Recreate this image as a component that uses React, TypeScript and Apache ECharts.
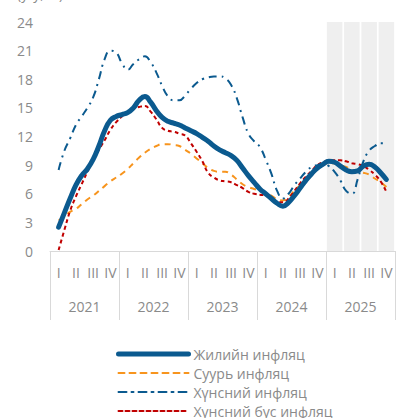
import React, { useEffect, useRef } from "react";
import * as echarts from "echarts";

// Category labels
const years = ["2021", "2022", "2023", "2024", "2025"];
const quarters = ["I", "II", "III", "IV"];
const shadedYear = "2025";
const yMax = 24;

// Monthly values, Feb 2021 – Nov 2025 (58 months), % y/y
const headline = [
  2.5, 4.0, 5.5, 6.9, 7.9, 8.6, 9.6, 11.0, 12.6, 13.7,
  14.1, 14.3, 14.5, 15.0, 15.8, 16.2, 15.6, 14.7, 14.0, 13.6,
  13.4, 13.2, 12.9, 12.6, 12.3, 11.9, 11.5, 11.0, 10.6, 10.3,
  10.0, 9.5, 8.7, 7.9, 7.2, 6.5, 6.0, 5.5, 5.0, 4.7,
  5.1, 5.8, 6.6, 7.4, 8.1, 8.7, 9.1, 9.4, 9.3, 8.9,
  8.5, 8.3, 8.4, 8.9, 9.1, 8.8, 8.2, 7.5,
];
const core = [
  3.2, 3.6, 4.1, 4.4, 4.9, 5.4, 5.8, 6.3, 6.8, 7.3,
  7.7, 8.1, 8.6, 9.2, 9.8, 10.3, 10.7, 11.0, 11.2, 11.2,
  11.1, 11.0, 10.6, 10.2, 9.7, 9.2, 8.7, 8.4, 8.3, 8.3,
  8.0, 7.5, 7.0, 6.7, 6.5, 6.3, 6.0, 5.8, 5.4, 5.3,
  5.7, 6.3, 6.9, 7.4, 7.9, 8.6, 9.0, 9.2, 9.2, 9.0,
  8.8, 8.5, 8.3, 8.2, 8.0, 7.6, 7.2, 6.7,
];
const food = [
  8.5, 10.5, 11.8, 13.2, 14.1, 15.0, 16.1, 18.0, 20.1, 21.0,
  20.8, 19.7, 19.0, 19.6, 20.1, 20.4, 19.8, 18.7, 17.3, 16.2,
  15.8, 15.8, 16.3, 17.0, 17.6, 18.0, 18.2, 18.3, 18.3, 18.1,
  17.4, 16.0, 14.0, 12.3, 11.5, 10.9, 9.6, 8.1, 6.3, 5.5,
  6.0, 6.9, 7.6, 8.3, 8.8, 9.0, 9.1, 8.9, 8.3, 7.4,
  6.3, 6.0, 7.5, 9.4, 10.5, 11.0, 11.3, 11.3,
];
const nonFood = [
  0.1, 2.2, 4.2, 5.7, 7.0, 8.3, 9.5, 10.6, 11.6, 12.7,
  13.5, 14.1, 14.6, 14.9, 15.1, 15.2, 14.6, 13.8, 12.9, 12.6,
  12.5, 12.3, 12.1, 11.3, 10.4, 9.4, 8.2, 7.7, 7.4, 7.3,
  7.2, 6.9, 6.6, 6.2, 6.0, 5.9, 5.8, 5.5, 5.2, 5.1,
  5.5, 6.3, 7.1, 7.8, 8.4, 9.0, 9.3, 9.5, 9.5, 9.5,
  9.4, 9.2, 9.1, 8.9, 8.5, 8.0, 7.3, 6.2,
];

const seriesNames = ["Жилийн инфляц", "Суурь инфляц", "Хүнсний инфляц", "Хүнсний бус инфляц"];
const unitLabel = "(у/у, %)";

const FONT = "'Open Sans', 'Noto Sans', sans-serif";
const GRAY = "#8a8a8a";

export default function App() {
  const ref = useRef<HTMLDivElement>(null);

  useEffect(() => {
    if (!ref.current) return;
    const chart = echarts.init(ref.current, undefined, { renderer: "svg" });

    const quarterLabels = years.flatMap(() => quarters);
    const months: string[] = [];
    years.forEach((y) => {
      for (let m = 1; m <= 12; m++) months.push(`${y}-${m}`);
    });
    // series start in Feb 2021 (month index 1)
    const pad = (arr: number[]) => {
      const out: (number | null)[] = new Array(months.length).fill(null);
      arr.forEach((v, i) => (out[i + 1] = v));
      return out;
    };
    const shadeIdx = years.indexOf(shadedYear);
    const shade = quarterLabels.map((_, i) => (Math.floor(i / 4) === shadeIdx ? yMax : null));

    const foodData: any[] = pad(food);
    const lastFood = 1 + food.length - 1;
    foodData[lastFood] = {
      value: food[food.length - 1],
      label: {
        show: true,
        position: "top",
        distance: 11,
        color: GRAY,
        fontSize: 14,
        fontFamily: FONT,
        formatter: (p: any) => String(p.value),
      },
    };

    const labelStyle = { color: GRAY, fontSize: 14, fontFamily: FONT };

    chart.setOption({
      animation: false,
      grid: { left: 50, right: 6, top: 22, bottom: 167, containLabel: false },
      graphic: [
        {
          type: "text",
          x: 17,
          y: -14,
          style: { text: unitLabel, fill: GRAY, fontSize: 14, fontFamily: FONT, verticalAlign: "top" },
        },
      ],
      legend: {
        orient: "vertical",
        left: 116,
        top: 347,
        padding: 0,
        itemWidth: 70,
        itemHeight: 14,
        itemGap: 5,
        textStyle: { color: GRAY, fontSize: 14, fontFamily: FONT },
        lineStyle: { width: "inherit", cap: "round" },
        itemStyle: { opacity: 0 },
        data: seriesNames,
      },
      xAxis: [
        {
          type: "category",
          data: quarterLabels,
          boundaryGap: true,
          position: "bottom",
          axisLine: { lineStyle: { color: "#d9d9d9", width: 1 } },
          axisTick: { show: false },
          axisLabel: { ...labelStyle, interval: 0, margin: 14 },
        },
        {
          type: "category",
          data: years,
          boundaryGap: true,
          position: "bottom",
          axisLine: { show: false },
          axisTick: { show: true, length: 69, lineStyle: { color: "#d9d9d9", width: 1 } },
          axisLabel: { ...labelStyle, interval: 0, margin: 48 },
        },
        {
          type: "category",
          data: months,
          boundaryGap: true,
          show: false,
        },
      ],
      yAxis: {
        type: "value",
        min: 0,
        max: yMax,
        interval: 3,
        axisLine: { show: false },
        axisTick: { show: false },
        splitLine: { show: false },
        axisLabel: { ...labelStyle, margin: 17 },
      },
      series: [
        {
          type: "bar",
          xAxisIndex: 0,
          data: shade,
          barCategoryGap: "10%",
          itemStyle: { color: "#efefef" },
          silent: true,
          z: 1,
        },
        {
          name: seriesNames[1],
          type: "line",
          xAxisIndex: 2,
          data: pad(core),
          smooth: true,
          symbol: "none",
          lineStyle: { color: "#f7941d", width: 2, type: [6, 5] },
          itemStyle: { color: "#f7941d" },
          z: 3,
        },
        {
          name: seriesNames[3],
          type: "line",
          xAxisIndex: 2,
          data: pad(nonFood),
          smooth: true,
          symbol: "none",
          lineStyle: { color: "#c00000", width: 2, type: [4, 3] },
          itemStyle: { color: "#c00000" },
          z: 3,
        },
        {
          name: seriesNames[2],
          type: "line",
          xAxisIndex: 2,
          data: foodData,
          smooth: true,
          symbol: "none",
          lineStyle: { color: "#0b5a8f", width: 2, type: [8, 5, 2, 5] },
          itemStyle: { color: "#0b5a8f" },
          z: 3,
        },
        {
          name: seriesNames[0],
          type: "line",
          xAxisIndex: 2,
          data: pad(headline),
          smooth: true,
          symbol: "none",
          lineStyle: { color: "#0b5a8f", width: 5, cap: "round", join: "round" },
          itemStyle: { color: "#0b5a8f" },
          z: 4,
        },
      ],
    });

    return () => chart.dispose();
  }, []);

  return (
    <div
      ref={ref}
      style={{ position: "absolute", left: 0, top: 0, width: 401, height: 418 }}
    />
  );
}
